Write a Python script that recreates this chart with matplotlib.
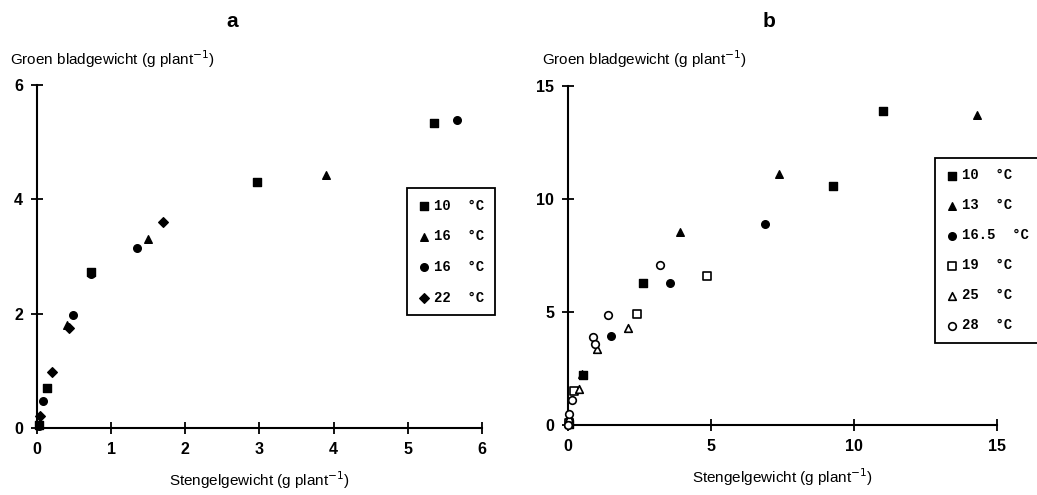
import matplotlib.pyplot as plt

# panel a: stengelgewicht (x) vs groen bladgewicht (y)
a_labels = ["10  °C", "16  °C", "16  °C", "22  °C"]
a_markers = ["s", "^", "o", "D"]
a_x = [
    [0.02, 0.13, 0.73, 2.97, 5.35],
    [0.03, 0.40, 1.50, 3.90],
    [0.02, 0.08, 0.49, 0.73, 1.35, 5.66],
    [0.04, 0.20, 0.43, 1.70],
]
a_y = [
    [0.05, 0.70, 2.72, 4.30, 5.33],
    [0.05, 1.80, 3.30, 4.42],
    [0.03, 0.47, 1.98, 2.70, 3.15, 5.39],
    [0.21, 0.98, 1.75, 3.60],
]

# panel b
b_labels = ["10  °C", "13  °C", "16.5  °C", "19  °C", "25  °C", "28  °C"]
b_markers = ["s", "^", "o", "s", "^", "o"]
b_filled = [True, True, True, False, False, False]
b_x = [
    [0.02, 0.52, 2.63, 9.27, 11.0],
    [0.03, 0.50, 3.92, 7.39, 14.3],
    [0.03, 1.50, 3.57, 6.89],
    [0.02, 0.20, 2.40, 4.86],
    [0.05, 0.37, 1.00, 2.10],
    [0.00, 0.05, 0.14, 0.87, 0.94, 1.41, 3.22],
]
b_y = [
    [0.05, 2.20, 6.28, 10.58, 13.9],
    [0.10, 2.25, 8.54, 11.1, 13.7],
    [0.20, 3.94, 6.28, 8.89],
    [0.10, 1.50, 4.90, 6.60],
    [0.30, 1.60, 3.36, 4.30],
    [0.00, 0.50, 1.10, 3.90, 3.60, 4.87, 7.08],
]

plt.rcParams['font.family'] = ['Liberation Sans', 'DejaVu Sans']

fig = plt.figure(figsize=(10.37, 4.95), dpi=100)
ax1 = fig.add_axes([0.0357, 0.1354, 0.429, 0.693])
ax2 = fig.add_axes([0.5477, 0.1414, 0.4137, 0.685])


def style(ax, xmax, ymax, ticks_x, ticks_y):
    ax.set_xlim(0, xmax)
    ax.set_ylim(0, ymax)
    ax.set_xticks(ticks_x)
    ax.set_yticks(ticks_y)
    for s in ["top", "right"]:
        ax.spines[s].set_visible(False)
    for s in ["left", "bottom"]:
        ax.spines[s].set_linewidth(1.5)
    ax.tick_params(direction="inout", length=8, width=1.3, labelsize=11.5, pad=6)
    for lbl in ax.get_xticklabels() + ax.get_yticklabels():
        lbl.set_fontweight("bold")
    ax.set_xlabel("Stengelgewicht (g plant$^{-1}$)", fontsize=11, labelpad=9)


for xs, ys, m, lab in zip(a_x, a_y, a_markers, a_labels):
    ms = 30 if m != "D" else 24
    ax1.scatter(xs, ys, marker=m, s=ms, color="black", label=lab, clip_on=False, zorder=3)
style(ax1, 6, 6, range(0, 7), [0, 2, 4, 6])

for xs, ys, m, f, lab in zip(b_x, b_y, b_markers, b_filled, b_labels):
    if f:
        ax2.scatter(xs, ys, marker=m, s=30, color="black", label=lab, clip_on=False, zorder=3)
    else:
        ax2.scatter(xs, ys, marker=m, s=30, facecolor="white", edgecolor="black",
                    linewidth=1.2, label=lab, clip_on=False, zorder=3)
style(ax2, 15, 15, [0, 5, 10, 15], [0, 5, 10, 15])

fig.text(0.01, 0.858, "Groen bladgewicht (g plant$^{-1}$)", fontsize=11, va="bottom")
fig.text(0.523, 0.858, "Groen bladgewicht (g plant$^{-1}$)", fontsize=11, va="bottom")
fig.text(0.224, 0.975, "a", fontsize=15, fontweight="bold", ha="center", va="top")
fig.text(0.742, 0.975, "b", fontsize=15, fontweight="bold", ha="center", va="top")

for ax, anchor, sp in [(ax1, (0.3925, 0.620), 1.2), (ax2, (0.9016, 0.681), 1.15)]:
    leg = ax.legend(loc="upper left", bbox_to_anchor=anchor, bbox_transform=fig.transFigure,
                    borderaxespad=0, fancybox=False, edgecolor="black", framealpha=1,
                    handletextpad=0.2, handlelength=1.0, labelspacing=sp, borderpad=0.75,
                    prop={"family": "Liberation Mono", "weight": "bold", "size": 10})
    leg.get_frame().set_linewidth(1.3)

fig.savefig("out.png", dpi=100)
